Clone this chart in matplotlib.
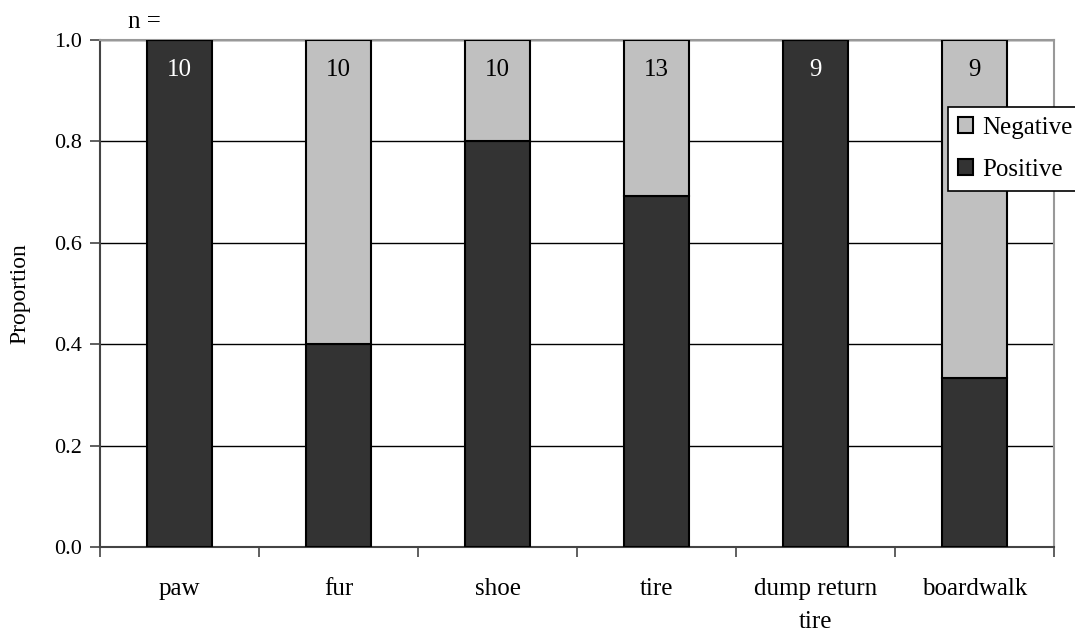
import matplotlib
matplotlib.use("Agg")
import matplotlib.pyplot as plt
import numpy as np

categories = ["paw", "fur", "shoe", "tire", "dump return\ntire", "boardwalk"]
n_samples = [10, 10, 10, 13, 9, 9]
positive = [10, 4, 8, 9, 9, 3]
positive_prop = [p / n for p, n in zip(positive, n_samples)]
negative_prop = [1 - p for p in positive_prop]

plt.rcParams["font.family"] = ["Liberation Serif", "DejaVu Serif"]

fig = plt.figure(figsize=(10.75, 6.31), dpi=100)
ax = fig.add_axes([100 / 1075, 84 / 631, 954 / 1075, 507 / 631])

x = np.arange(len(categories))
w = 0.415
dark = "#333333"
light = "#c0c0c0"

ax.set_axisbelow(True)
ax.yaxis.grid(True, color="black", linewidth=1.0)
ax.bar(x, positive_prop, w, color=dark, edgecolor="black", linewidth=1.5, label="Positive", zorder=3)
ax.bar(x, negative_prop, w, bottom=positive_prop, color=light, edgecolor="black",
       linewidth=1.5, label="Negative", zorder=3)

for xi, n, neg in zip(x, n_samples, negative_prop):
    col = "white" if neg < 0.05 else "black"
    ax.text(xi, 0.941, str(n), ha="center", va="center", fontsize=18, color=col, zorder=4)

ax.text(x[0] - 0.223, 1.0355, "n =", ha="center", va="center", fontsize=18, clip_on=False)

ax.set_xlim(-0.5, len(categories) - 0.5)
ax.set_ylim(0, 1.0)
yt = np.arange(0, 1.01, 0.2)
ax.set_yticks(yt)
ax.set_yticklabels([f"{v:.1f}" for v in yt], fontsize=16)
ax.set_xticks(x)
ax.set_xticklabels(categories, fontsize=18, linespacing=1.65)
ax.tick_params(axis="x", length=0, pad=22)
ax.set_xticks(np.arange(-0.5, len(categories)), minor=True)
ax.tick_params(axis="x", which="minor", length=7, color="#444444", width=1.2)
ax.tick_params(axis="y", length=7, color="#444444", width=1.2, pad=6)
ax.set_ylabel("Proportion", fontsize=17, labelpad=17)

for s in ["top", "right"]:
    ax.spines[s].set_color("#999999")
    ax.spines[s].set_linewidth(1.5)
for s in ["left", "bottom"]:
    ax.spines[s].set_color("#444444")
    ax.spines[s].set_linewidth(1.5)

handles, labels = ax.get_legend_handles_labels()
leg = fig.legend(handles[::-1], labels[::-1], loc="upper left",
                 bbox_to_anchor=(948 / 1075, 1 - 107 / 631), fontsize=18,
                 frameon=True, fancybox=False, edgecolor="black", framealpha=1,
                 handlelength=0.6, handleheight=0.6, handletextpad=0.35,
                 borderpad=0.4, labelspacing=0.8, borderaxespad=0)
leg.get_frame().set_linewidth(1.2)

fig.savefig("out.png", dpi=100)
